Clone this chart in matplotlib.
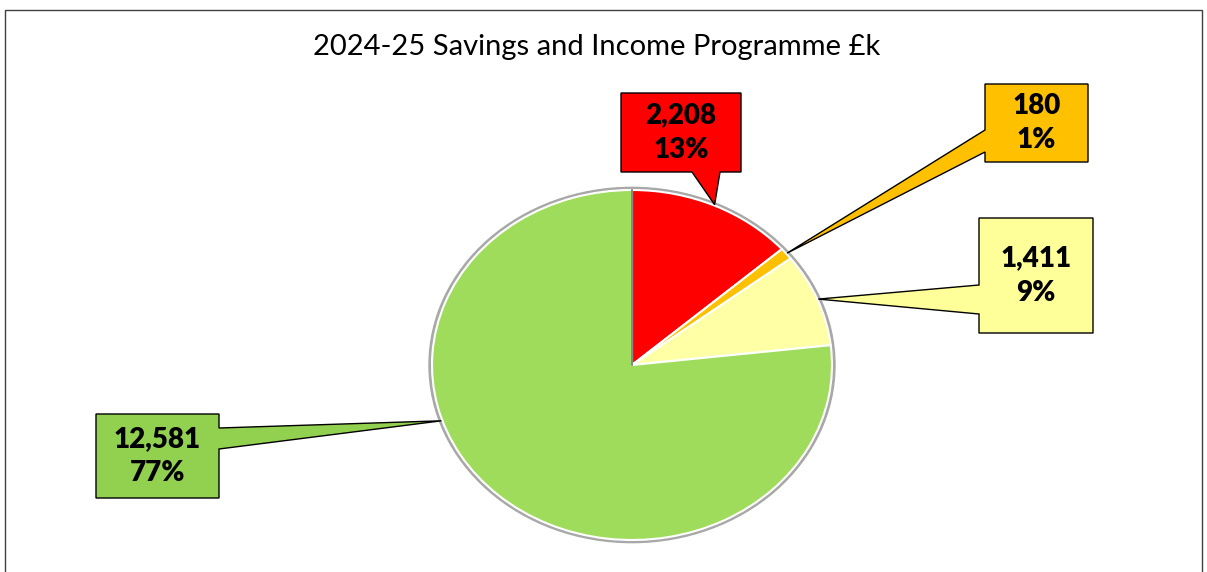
import numpy as np
import matplotlib.pyplot as plt
from matplotlib.patches import Polygon, Rectangle, Ellipse

# Slice data (clockwise from 12 o'clock)
values = [2208, 180, 1411, 12581]
percent_labels = ["13%", "1%", "9%", "77%"]
slice_colors = ["#FF0000", "#FFC000", "#FFFFA6", "#A0DC5C"]
box_colors = ["#FF0000", "#FFC000", "#FFFF99", "#92D050"]
title = "2024-25 Savings and Income Programme £k"

W, H = 1207, 572
# pie centre / radii in pixels (pie is drawn slightly squashed)
CX, CY, RX, RY = 632, 365, 200, 175

# callout layout in pixels: box (x0, y0, x1, y1), side of pointer, pointer base (a, b)
boxes = [
    ((621, 93, 741, 172), "bottom", (692, 720)),
    ((985, 84, 1088, 162), "left", (130, 152)),
    ((979, 218, 1093, 333), "left", (285, 314)),
    ((96, 414, 219, 498), "right", (428, 449)),
]
# pointer tip angle override (degrees), None -> middle of the slice
tip_angles = [None, None, None, 198.5]


def to_data(x, y):
    return ((x - CX) / RX, (CY - y) / RY)


fig = plt.figure(figsize=(W / 100, H / 100), dpi=100)
ax = fig.add_axes([0, 0, 1, 1])

# soft grey rim behind the pie
ax.add_patch(Ellipse((0, 0), 2.03, 2.03, color="#A8A8A8", zorder=0))

wedges, _ = ax.pie(values, colors=slice_colors, startangle=90, counterclock=False,
                   wedgeprops=dict(edgecolor="white", linewidth=1.5))
ax.set_aspect("auto")
ax.set_xlim(-CX / RX, (W - CX) / RX)
ax.set_ylim(-(H - CY) / RY, CY / RY)
ax.axis("off")

# darker seam between the big green slice and the red one at 12 o'clock
ax.plot([0, 0], [0, 1], color="#707070", linewidth=1.2, zorder=3)

for i, w in enumerate(wedges):
    ang = tip_angles[i]
    if ang is None:
        ang = (w.theta1 + w.theta2) / 2
    tx = np.cos(np.radians(ang)) * 1.005
    ty = np.sin(np.radians(ang)) * 1.005
    (x0, y0, x1, y1), side, (a, b) = boxes[i]
    if side == "bottom":
        pts = [to_data(x0, y0), to_data(x1, y0), to_data(x1, y1), to_data(b, y1),
               (tx, ty), to_data(a, y1), to_data(x0, y1)]
    elif side == "left":
        pts = [to_data(x0, y0), to_data(x1, y0), to_data(x1, y1), to_data(x0, y1),
               to_data(x0, b), (tx, ty), to_data(x0, a)]
    else:
        pts = [to_data(x0, y0), to_data(x1, y0), to_data(x1, a), (tx, ty),
               to_data(x1, b), to_data(x1, y1), to_data(x0, y1)]
    ax.add_patch(Polygon(pts, closed=True, facecolor=box_colors[i], edgecolor="black",
                         linewidth=1, zorder=5))
    cx, cy = to_data((x0 + x1) / 2, (y0 + y1) / 2)
    ax.text(cx, cy, f"{values[i]:,}\n{percent_labels[i]}", ha="center", va="center",
            fontsize=20, fontweight="heavy", family="Lato", linespacing=1.4, zorder=6)

fig.text(597 / W, 1 - 47 / H, title, ha="center", va="center", fontsize=21, family="Lato")

# chart border (bottom edge runs off the picture)
fig.add_artist(Rectangle((5 / W, -30 / H), (W - 10) / W, (H + 20) / H, fill=False,
                         edgecolor="#404040", linewidth=1, transform=fig.transFigure))

plt.savefig("out.png", dpi=100)
